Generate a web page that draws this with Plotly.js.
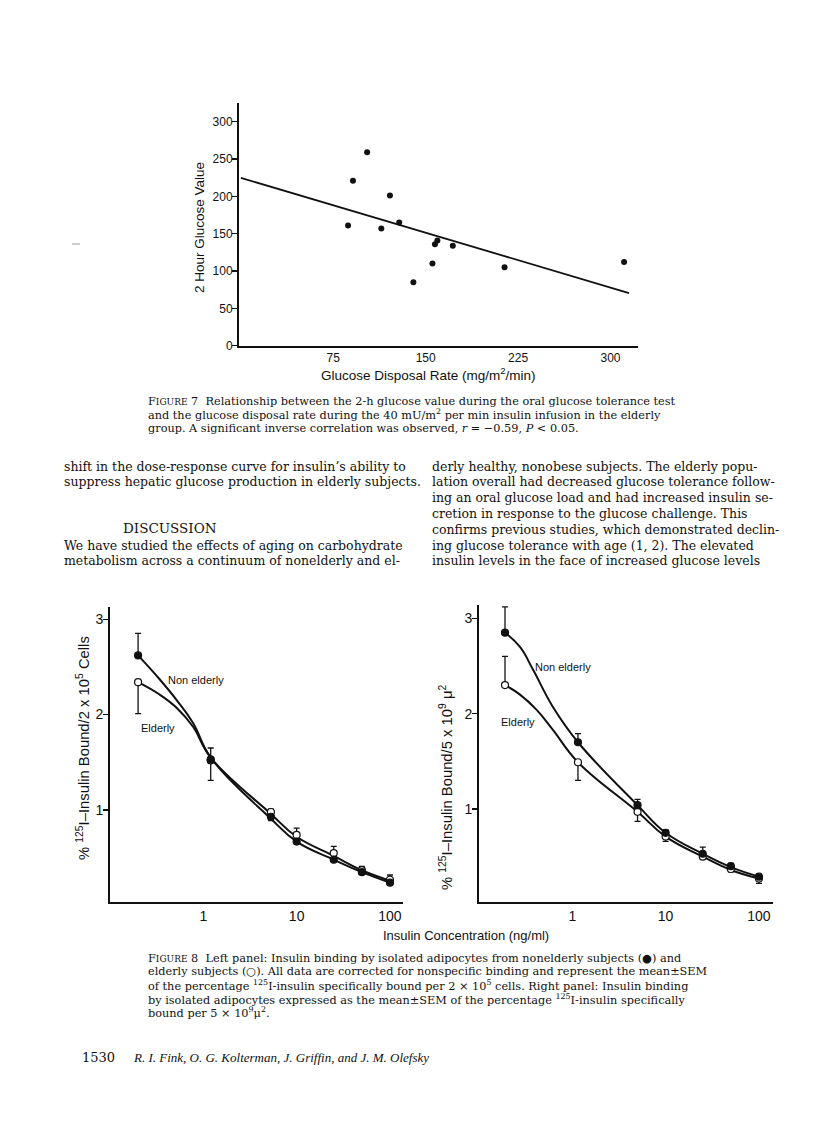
<!DOCTYPE html>
<html>
<head>
<meta charset="utf-8">
<script src="https://cdn.plot.ly/plotly-3.0.1.min.js"></script>
<style>html,body{margin:0;padding:0;background:#fff;}#page{width:816px;height:1127px;}</style>
</head>
<body>
<div id="page"></div>
<script>
// ---------- Figure 7 data ----------
const gdrX = [87, 91, 102.5, 114, 121, 128.5, 140, 155.5, 157.5, 159.5, 172, 214, 311];
const glucose2h = [161, 221, 259, 157, 201, 165, 85, 110, 136, 141, 134, 105, 112];
const regX = [0, 315];
const regY = [224.7, 70.5];
const fig7XTicks = [75, 150, 225, 300];
const fig7YTicks = [0, 50, 100, 150, 200, 250, 300];

// ---------- Figure 8 data (left panel, per 2x10^5 cells) ----------
const leftConc = [0.2, 1.2, 5.3, 10, 25, 50, 100];
const leftNon = [2.62, 1.53, 0.93, 0.67, 0.48, 0.35, 0.24];
const leftNonUp = [0.23, 0.12, 0, 0, 0, 0, 0];
const leftNonDown = [0, 0, 0.04, 0.02, 0.02, 0.02, 0.02];
const leftEld = [2.34, 1.52, 0.98, 0.74, 0.55, 0.37, 0.27];
const leftEldUp = [0, 0, 0.03, 0.07, 0.07, 0.04, 0.05];
const leftEldDown = [0.33, 0.21, 0, 0, 0, 0, 0];
const leftNonCurveX = [0.2, 0.34, 0.52, 0.78, 1.2, 5.3, 10, 25, 50, 100];
const leftNonCurveY = [2.62, 2.37, 2.15, 1.91, 1.55, 0.91, 0.67, 0.48, 0.35, 0.24];
const leftEldCurveX = [0.2, 0.34, 0.52, 0.78, 1.2, 5.3, 10, 25, 50, 100];
const leftEldCurveY = [2.34, 2.21, 2.07, 1.87, 1.55, 0.96, 0.72, 0.52, 0.37, 0.26];

// ---------- Figure 8 data (right panel, per 5x10^9 u^2) ----------
const rightConc = [0.19, 1.15, 5, 10, 25, 50, 100];
const rightNon = [2.85, 1.70, 1.04, 0.75, 0.53, 0.40, 0.29];
const rightNonUp = [0.27, 0.09, 0.06, 0.03, 0.07, 0.03, 0.02];
const rightNonDown = [0, 0, 0, 0, 0, 0, 0];
const rightEld = [2.30, 1.49, 0.97, 0.71, 0.50, 0.37, 0.27];
const rightEldUp = [0.30, 0, 0, 0, 0, 0, 0];
const rightEldDown = [0, 0.19, 0.10, 0.05, 0.03, 0.03, 0.05];
const rightNonCurveX = [0.19, 0.275, 0.38, 0.62, 1.15, 5, 10, 25, 50, 100];
const rightNonCurveY = [2.85, 2.70, 2.46, 2.07, 1.70, 1.04, 0.75, 0.53, 0.39, 0.29];
const rightEldCurveX = [0.19, 0.275, 0.415, 0.62, 1.15, 5, 10, 25, 50, 100];
const rightEldCurveY = [2.30, 2.20, 2.04, 1.83, 1.49, 0.97, 0.71, 0.50, 0.36, 0.27];
const fig8XTicks = [1, 10, 100];
const fig8YTicks = [1, 2, 3];

// ---------- Page text ----------
const fig7Caption = [
  'F<span style="font-size:9px">IGURE</span> 7  Relationship between the 2-h glucose value during the oral glucose tolerance test',
  'and the glucose disposal rate during the 40 mU/m<sup>2</sup> per min insulin infusion in the elderly',
  'group. A significant inverse correlation was observed, <i>r</i> = \u22120.59, <i>P</i> < 0.05.'
];
const leftColumn = [
  "shift in the dose-response curve for insulin\u2019s ability to",
  "suppress hepatic glucose production in elderly subjects."
];
const leftColumn2 = [
  "We have studied the effects of aging on carbohydrate",
  "metabolism across a continuum of nonelderly and el-"
];
const rightColumn = [
  "derly healthy, nonobese subjects. The elderly popu-",
  "lation overall had decreased glucose tolerance follow-",
  "ing an oral glucose load and had increased insulin se-",
  "cretion in response to the glucose challenge. This",
  "confirms previous studies, which demonstrated declin-",
  "ing glucose tolerance with age (1, 2). The elevated",
  "insulin levels in the face of increased glucose levels"
];
const fig8Caption = [
  'F<span style="font-size:9px">IGURE</span> 8  Left panel: Insulin binding by isolated adipocytes from nonelderly subjects (\u25CF) and',
  'elderly subjects (\u25CB). All data are corrected for nonspecific binding and represent the mean\u00B1SEM',
  'of the percentage <sup>125</sup>I-insulin specifically bound per 2 \u00D7 10<sup>5</sup> cells. Right panel: Insulin binding',
  'by isolated adipocytes expressed as the mean\u00B1SEM of the percentage <sup>125</sup>I-insulin specifically',
  'bound per 5 \u00D7 10<sup>9</sup>\u03BC<sup>2</sup>.'
];

// ---------- helpers ----------
const W = 816, H = 1127;
const px = x => x / W;
const py = y => 1 - y / H;
const SANS = 'Liberation Sans, Arial, sans-serif';
const SERIF = 'DejaVu Serif, serif';
const ann = [];
function txt(x, y, text, opts) {
  ann.push(Object.assign({xref: 'paper', yref: 'paper', x: px(x), y: py(y), text: text,
    showarrow: false, xanchor: 'left', yanchor: 'middle',
    font: {family: SERIF, size: 12.5, color: '#111'}}, opts || {}));
}

// captions and body text
const capFont = {family: SERIF, size: 11.3, color: '#111'};
fig7Caption.forEach((t, i) => txt(146, 401 + i * 13.6, t, {font: capFont}));
leftColumn.forEach((t, i) => txt(62, 466 + i * 15.8, t));
txt(170, 528, 'DISCUSSION', {xanchor: 'center', font: {family: SERIF, size: 13.5, color: '#111'}});
leftColumn2.forEach((t, i) => txt(62, 545 + i * 15.8, t));
rightColumn.forEach((t, i) => txt(430, 466 + i * 15.8, t));
fig8Caption.forEach((t, i) => txt(146, 958 + i * 13.7, t, {font: capFont}));
txt(80, 1057, '1530', {font: {family: SERIF, size: 13, color: '#111'}});
txt(131, 1057, 'R. I. Fink, O. G. Kolterman, J. Griffin, and J. M. Olefsky',
    {font: {family: 'Liberation Serif, serif', size: 13, color: '#111', style: 'italic'}});

// axis titles
const titleFont = {family: SANS, size: 13.5, color: '#111'};
txt(199, 228, '2 Hour Glucose Value', {xanchor: 'center', textangle: -90, font: titleFont});
txt(428, 374, 'Glucose Disposal Rate (mg/m<sup>2</sup>/min)', {xanchor: 'center', font: titleFont});
const yt8Font = {family: SANS, size: 14.8, color: '#111'};
txt(83, 748, '% <sup>125</sup>I\u2013Insulin Bound/2 x 10<sup>5</sup> Cells', {xanchor: 'center', textangle: -90, font: yt8Font});
txt(446, 787, '% <sup>125</sup>I\u2013Insulin Bound/5 x 10<sup>9</sup> \u03BC<sup>2</sup>', {xanchor: 'center', textangle: -90, font: yt8Font});
txt(466, 935, 'Insulin Concentration (ng/ml)', {xanchor: 'center', font: {family: SANS, size: 13, color: '#111'}});
// curve labels
const lblFont = {family: SANS, size: 11, color: '#111'};
txt(166, 680, 'Non elderly', {font: lblFont});
txt(139, 728, 'Elderly', {font: lblFont});
txt(533, 667, 'Non elderly', {font: lblFont});
txt(499, 722, 'Elderly', {font: lblFont});

// ---------- traces ----------
const traces = [];
traces.push({x: regX, y: regY, xaxis: 'x', yaxis: 'y', mode: 'lines', line: {color: '#111', width: 1.8}, hoverinfo: 'skip'});
traces.push({x: gdrX, y: glucose2h, xaxis: 'x', yaxis: 'y', mode: 'markers', marker: {color: '#111', size: 6}});

function curve(xs, ys, xa, ya) {
  traces.push({x: xs, y: ys, xaxis: xa, yaxis: ya, mode: 'lines', line: {color: '#111', width: 2, shape: 'spline', smoothing: 1.2}, hoverinfo: 'skip'});
}
function pts(xs, ys, up, down, filled, xa, ya) {
  traces.push({x: xs, y: ys, xaxis: xa, yaxis: ya, mode: 'markers',
    marker: {size: 7, color: filled ? '#111' : '#fff', line: {color: '#111', width: 1.2}},
    error_y: {type: 'data', symmetric: false, array: up, arrayminus: down, color: '#111', thickness: 1.3, width: 3}});
}
curve(leftNonCurveX, leftNonCurveY, 'x2', 'y2');
curve(leftEldCurveX, leftEldCurveY, 'x2', 'y2');
pts(leftConc, leftEld, leftEldUp, leftEldDown, false, 'x2', 'y2');
pts(leftConc, leftNon, leftNonUp, leftNonDown, true, 'x2', 'y2');
curve(rightNonCurveX, rightNonCurveY, 'x3', 'y3');
curve(rightEldCurveX, rightEldCurveY, 'x3', 'y3');
pts(rightConc, rightEld, rightEldUp, rightEldDown, false, 'x3', 'y3');
pts(rightConc, rightNon, rightNonUp, rightNonDown, true, 'x3', 'y3');

// ---------- axes ----------
const axBase = {showline: true, linecolor: '#111', linewidth: 2, showgrid: false, zeroline: false, mirror: false, fixedrange: true};
const tf7 = {family: SANS, size: 12, color: '#111'};
const tf8 = {family: SANS, size: 14, color: '#111'};
const yTick = {ticks: 'outside', ticklen: 5, tickwidth: 1.2, tickcolor: '#111', ticklabelstandoff: -3};
const layout = {
  width: W, height: H, margin: {l: 0, r: 0, t: 0, b: 0},
  paper_bgcolor: '#fff', plot_bgcolor: 'rgba(0,0,0,0)', showlegend: false,
  xaxis: Object.assign({}, axBase, {domain: [px(239), px(638)], anchor: 'y', range: [-1.5, 322.3],
    tickvals: fig7XTicks, ticks: '', tickfont: tf7}),
  yaxis: Object.assign({}, axBase, yTick, {domain: [py(345.7), py(103)], anchor: 'x', range: [0, 325],
    tickvals: fig7YTicks, tickfont: tf7}),
  xaxis2: Object.assign({}, axBase, {type: 'log', domain: [px(110), px(403.3)], anchor: 'y2', range: [-1.0, 2.143],
    tickvals: fig8XTicks, ticktext: fig8XTicks.map(String), ticks: '', tickfont: tf8}),
  yaxis2: Object.assign({}, axBase, yTick, {domain: [py(902.3), py(606.7)], anchor: 'x2', range: [0.034, 3.13],
    tickvals: fig8YTicks, tickfont: tf8}),
  xaxis3: Object.assign({}, axBase, {type: 'log', domain: [px(479), px(773.3)], anchor: 'y3', range: [-1.0, 2.154],
    tickvals: fig8XTicks, ticktext: fig8XTicks.map(String), ticks: '', tickfont: tf8}),
  yaxis3: Object.assign({}, axBase, yTick, {domain: [py(901.7), py(605)], anchor: 'x3', range: [0.027, 3.14],
    tickvals: fig8YTicks, tickfont: tf8}),
  annotations: ann,
  shapes: [{type: 'line', xref: 'paper', yref: 'paper', x0: px(72), x1: px(80), y0: py(244), y1: py(244), line: {color: '#999', width: 1}}]
};
Plotly.newPlot('page', traces, layout, {staticPlot: true, displayModeBar: false});
</script>
</body>
</html>
